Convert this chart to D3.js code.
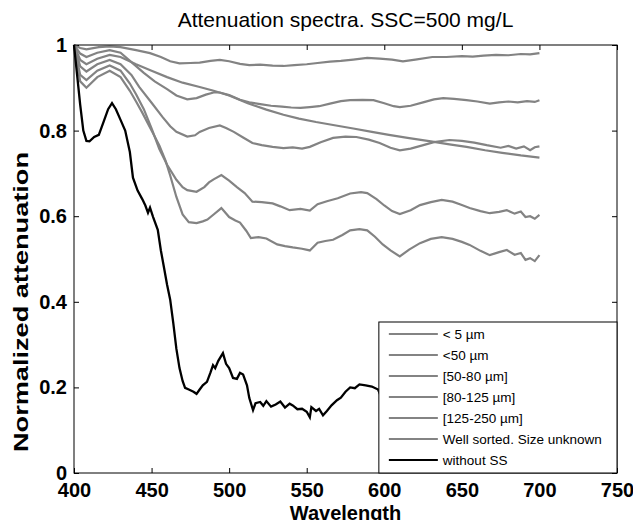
<!DOCTYPE html>
<html>
<head>
<meta charset="utf-8">
<script src="https://cdn.jsdelivr.net/npm/d3@7"></script>
<style>
  body { margin: 0; background: #fff; }
  text { font-family: "Liberation Sans", Arial, sans-serif; }
</style>
</head>
<body>
<div id="my_dataviz"></div>
<script>

// Data: [wavelength, normalized attenuation]

const xTicks = [400, 450, 500, 550, 600, 650, 700, 750];
const yTicks = [0, 0.2, 0.4, 0.6, 0.8, 1];

const legendLabels = ["< 5 \u00b5m", "<50 \u00b5m", "[50-80 \u00b5m]", "[80-125 \u00b5m]",
  "[125-250 \u00b5m]", "Well sorted. Size unknown", "without SS"];

const lt5 = [[400,1.0],[404,0.993],[408,0.99],[416,0.995],[423,0.997],[430,0.995],[440,0.988],[449,0.981],
  [456,0.972],[462,0.962],[468,0.957],[475,0.958],[481,0.959],[488,0.963],[494,0.965],[500,0.962],[507,0.956],
  [513,0.953],[520,0.954],[528,0.952],[535,0.951],[542,0.953],[550,0.955],[557,0.958],[565,0.961],[572,0.963],
  [580,0.966],[589,0.97],[597,0.968],[605,0.966],[612,0.962],[620,0.966],[631,0.972],[640,0.972],[650,0.974],
  [657,0.973],[664,0.975],[672,0.977],[680,0.976],[688,0.979],[694,0.978],[700,0.981]];

const lt50 = [[400,1.0],[404,0.98],[408,0.972],[415,0.982],[423,0.988],[430,0.982],[437,0.96],[445,0.935],
  [452,0.915],[460,0.897],[466,0.882],[473,0.873],[479,0.876],[485,0.884],[490,0.889],[494,0.889],[500,0.883],
  [507,0.872],[513,0.866],[520,0.862],[527,0.858],[534,0.856],[540,0.854],[546,0.853],[552,0.855],[558,0.857],
  [565,0.863],[572,0.869],[578,0.871],[586,0.872],[593,0.871],[600,0.864],[606,0.857],[610,0.855],[617,0.858],
  [625,0.866],[632,0.873],[638,0.876],[645,0.874],[653,0.871],[660,0.868],[668,0.863],[674,0.866],[680,0.868],
  [686,0.866],[692,0.869],[697,0.867],[700,0.871]];

const s50to80 = [[400,1.0],[404,0.95],[408,0.938],[415,0.955],[423,0.965],[430,0.955],[437,0.93],[442,0.902],
  [450,0.865],[457,0.832],[462,0.81],[466,0.797],[473,0.786],[478,0.789],[481,0.797],[487,0.806],[494,0.812],
  [498,0.806],[503,0.797],[509,0.784],[515,0.771],[521,0.766],[528,0.762],[535,0.759],[541,0.761],[547,0.758],
  [552,0.762],[559,0.773],[567,0.783],[575,0.786],[582,0.785],[590,0.779],[597,0.771],[604,0.76],[610,0.754],
  [617,0.758],[624,0.765],[632,0.773],[642,0.778],[650,0.776],[658,0.772],[666,0.766],[675,0.76],[680,0.764],
  [685,0.758],[690,0.763],[694,0.754],[697,0.761],[700,0.763]];

const s80to125 = [[400,1.0],[404,0.93],[408,0.918],[415,0.94],[423,0.952],[430,0.94],[436,0.91],[440,0.885],
  [445,0.85],[450,0.805],[455,0.757],[460,0.72],[466,0.685],[470,0.668],[473,0.661],[479,0.657],[484,0.668],
  [487,0.679],[490,0.686],[495,0.696],[500,0.683],[505,0.668],[510,0.654],[515,0.634],[521,0.633],[528,0.63],
  [533,0.623],[539,0.614],[546,0.617],[552,0.613],[557,0.628],[563,0.635],[570,0.642],[578,0.653],[585,0.656],
  [589,0.654],[595,0.64],[600,0.625],[605,0.612],[610,0.605],[617,0.614],[623,0.626],[630,0.633],[637,0.638],
  [644,0.634],[650,0.626],[655,0.619],[662,0.612],[668,0.607],[674,0.61],[679,0.614],[684,0.606],[688,0.611],
  [691,0.598],[694,0.6],[697,0.594],[700,0.603]];

const s125to250 = [[400,1.0],[404,0.915],[408,0.9],[415,0.925],[423,0.94],[430,0.925],[436,0.893],[440,0.868],
  [444,0.842],[450,0.8],[455,0.765],[459,0.73],[462,0.695],[466,0.645],[470,0.604],[474,0.586],[479,0.584],
  [483,0.588],[486,0.592],[490,0.604],[495,0.619],[500,0.598],[504,0.59],[507,0.585],[511,0.566],[514,0.549],
  [519,0.551],[524,0.548],[531,0.534],[536,0.53],[541,0.527],[547,0.524],[552,0.52],[557,0.538],[562,0.542],
  [567,0.545],[573,0.556],[578,0.567],[584,0.57],[589,0.567],[594,0.552],[599,0.534],[604,0.52],[610,0.506],
  [616,0.522],[623,0.537],[630,0.547],[637,0.551],[644,0.547],[650,0.54],[655,0.533],[662,0.519],[668,0.509],
  [674,0.516],[679,0.521],[684,0.51],[688,0.514],[691,0.498],[694,0.502],[697,0.495],[700,0.509]];

const wellSorted = [[400,1.0],[404,0.965],[408,0.955],[415,0.968],[423,0.977],[430,0.972],[440,0.955],[450,0.94],
  [460,0.925],[470,0.912],[481,0.902],[490,0.893],[500,0.882],[512,0.864],[524,0.849],[535,0.837],[545,0.828],
  [556,0.82],[567,0.813],[580,0.805],[592,0.797],[603,0.79],[615,0.783],[630,0.775],[642,0.768],[653,0.762],
  [665,0.754],[676,0.748],[688,0.742],[700,0.737]];

const withoutSS = [[400,1.0],[402,0.93],[404,0.86],[406,0.8],[408,0.776],[410,0.775],[413,0.785],[416,0.79],
  [419,0.82],[422,0.85],[424.5,0.864],[427,0.85],[430,0.825],[433,0.8],[436,0.75],[438,0.69],[441,0.66],
  [444,0.64],[446,0.625],[447.7,0.608],[449,0.62],[451,0.598],[454,0.568],[456,0.52],[458,0.48],[460,0.44],
  [462,0.405],[464,0.35],[466,0.29],[468,0.245],[470,0.215],[471.6,0.199],[474,0.195],[477,0.19],[479,0.185],
  [481,0.195],[483,0.205],[485.7,0.213],[488,0.235],[489.6,0.252],[491,0.245],[493,0.262],[496,0.28],[498,0.255],
  [500,0.245],[502.5,0.222],[505,0.22],[507,0.234],[509,0.23],[511.5,0.205],[513,0.175],[515.4,0.147],[517,0.163],
  [520,0.166],[522,0.157],[524,0.168],[527,0.155],[530,0.16],[533,0.167],[536,0.153],[539,0.162],[541,0.158],
  [544,0.149],[547,0.15],[550,0.143],[552,0.13],[553,0.154],[556,0.145],[558,0.15],[560.5,0.135],[563,0.145],
  [566,0.158],[569.5,0.17],[572,0.176],[575,0.19],[578,0.2],[581,0.198],[584,0.207],[588,0.205],[592,0.202],
  [596,0.195],[600,0.16],[610,0.15],[630,0.17],[650,0.18],[670,0.17],[700,0.16]];

const grayCurves = [lt5, lt50, s50to80, s80to125, s125to250, wellSorted];

let margin = { top: 45, right: 16, bottom: 47, left: 74 },
  width = 633 - margin.left - margin.right,
  height = 520 - margin.top - margin.bottom;

let svg = d3.select("#my_dataviz")
  .append("svg")
  .attr("width", width + margin.left + margin.right)
  .attr("height", height + margin.top + margin.bottom)
  .append("g")
  .attr("transform", "translate(" + margin.left + "," + margin.top + ")");

// Axes (MATLAB style: ticks inside, on all four sides)

let x = d3.scaleLinear()
  .domain([400, 750])
  .range([0, width]);

let y = d3.scaleLinear()
  .domain([0, 1])
  .range([height, 0]);

let xAxis = svg.append("g")
  .attr("transform", "translate(0," + height + ")")
  .call(d3.axisBottom(x).tickValues(xTicks).tickSizeInner(-5).tickSizeOuter(0).tickPadding(10));

let yAxis = svg.append("g")
  .call(d3.axisLeft(y).tickValues(yTicks).tickSizeInner(-5).tickSizeOuter(0).tickPadding(7)
    .tickFormat(d3.format("~g")));

svg.append("g")
  .call(d3.axisTop(x).tickValues(xTicks).tickSizeInner(-5).tickSizeOuter(0).tickFormat(""));

svg.append("g")
  .attr("transform", "translate(" + width + ",0)")
  .call(d3.axisRight(y).tickValues(yTicks).tickSizeInner(-5).tickSizeOuter(0).tickFormat(""));

svg.selectAll(".domain").remove();
svg.selectAll(".tick line").attr("stroke", "#000");

[xAxis, yAxis].forEach(a => a.selectAll("text")
  .style("font-size", "20px")
  .style("font-weight", "bold")
  .attr("fill", "#000"));

// Curves

let line = d3.line()
  .x(d => x(d[0]))
  .y(d => y(d[1]));

svg.append("g")
  .selectAll("path")
  .data(grayCurves)
  .enter()
  .append("path")
  .attr("d", line)
  .attr("stroke", "#838383")
  .style("fill", "none")
  .style("stroke-width", 2.2);

svg.append("path")
  .datum(withoutSS)
  .attr("d", line)
  .attr("stroke", "#000000")
  .style("fill", "none")
  .style("stroke-width", 2.3);

// Frame

svg.append("rect")
  .attr("width", width)
  .attr("height", height)
  .style("fill", "none")
  .attr("stroke", "#000")
  .style("stroke-width", 1);

// Titles

svg.append("text")
  .attr("x", width / 2)
  .attr("y", -18)
  .style("text-anchor", "middle")
  .style("font-size", "21px")
  .text("Attenuation spectra. SSC=500 mg/L");

svg.append("text")
  .attr("x", width / 2)
  .attr("y", height + 47)
  .style("text-anchor", "middle")
  .style("font-size", "20px")
  .style("font-weight", "bold")
  .text("Wavelength");

// the source image is stretched vertically, so the y label runs longer
svg.append("text")
  .attr("transform", "rotate(-90)")
  .attr("x", 0 - 257)
  .attr("y", 0 - margin.left + 28)
  .attr("textLength", 300)
  .attr("lengthAdjust", "spacingAndGlyphs")
  .style("text-anchor", "middle")
  .style("font-size", "20px")
  .style("font-weight", "bold")
  .text("Normalized attenuation");

// Legend

const legendX = x(596.5), legendY = 277, legendRow = 21;

let legend = svg.append("g")
  .attr("transform", "translate(" + legendX + "," + legendY + ")");

legend.append("rect")
  .attr("width", width - legendX)
  .attr("height", height - legendY)
  .style("fill", "#fff")
  .attr("stroke", "#000")
  .style("stroke-width", 1);

let rows = legend.selectAll(".row")
  .data(legendLabels)
  .enter()
  .append("g")
  .attr("transform", (d, i) => "translate(0," + (12 + i * legendRow) + ")");

rows.append("line")
  .attr("x1", 10)
  .attr("x2", 59)
  .attr("stroke", (d, i) => i === legendLabels.length - 1 ? "#000" : "#838383")
  .style("stroke-width", 2);

rows.append("text")
  .attr("x", 64)
  .attr("dy", "0.35em")
  .style("font-size", "13.5px")
  .text(d => d);

</script>
</body>
</html>
